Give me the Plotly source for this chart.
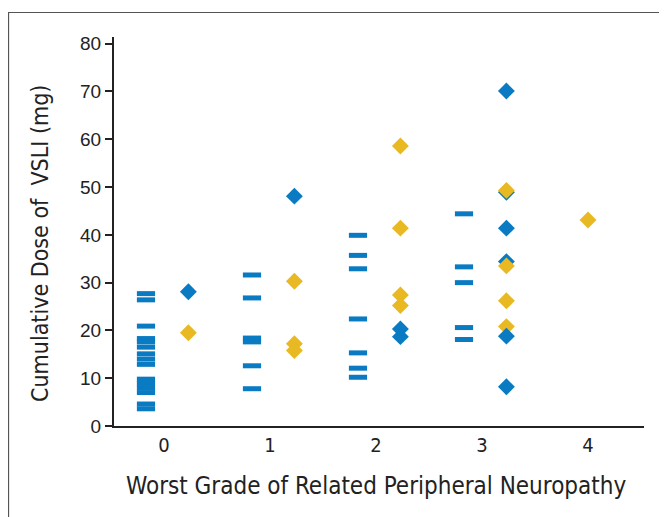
import plotly.graph_objects as go

BLUE = "#0A7BC2"
YELLOW = "#E8B923"

grades = [0, 1, 2, 3, 4]
tick_labels = ["0", "1", "2", "3", "4"]
y_ticks = [0, 10, 20, 30, 40, 50, 60, 70, 80]

# Dashes (one per patient) by grade
dash_grade = ([0] * 15) + ([1] * 6) + ([2] * 7) + ([3] * 5)
dash_dose = [27.7, 26.4, 20.9, 18.3, 17.6, 16.5, 15.1, 14.0, 12.9, 9.8, 8.9, 8.0, 7.0, 4.6, 3.6,
             31.6, 26.8, 18.4, 17.6, 12.6, 7.8,
             39.9, 35.7, 32.9, 22.4, 15.3, 12.1, 10.2,
             44.4, 33.3, 30.0, 20.6, 18.1]

# Blue diamonds
blue_grade = [0, 1, 2, 2, 3, 3, 3, 3]
blue_dose = [28.1, 48.1, 20.3, 18.7, 70.1, 48.9, 41.4, 34.4]
# Yellow diamonds
yellow_grade = [0, 1, 1, 1, 2, 2, 2, 2, 3, 3, 3, 3, 4]
yellow_dose = [19.5, 30.3, 17.2, 15.8, 58.6, 41.4, 27.4, 25.2, 49.3, 33.5, 26.2, 20.8, 43.1]
# Blue diamonds drawn over the yellow ones
blue_top_grade = [3, 3]
blue_top_dose = [18.8, 8.2]

DASH_OFF = -0.17
DIA_OFF = 0.23

def offs(gs, off):
    return [g + (off if g < 4 else 0.0) for g in gs]

fig = go.Figure()
fig.add_trace(go.Scatter(
    x=offs(dash_grade, DASH_OFF), y=dash_dose, mode="markers",
    marker=dict(symbol="line-ew", size=13, color=BLUE,
                line=dict(color=BLUE, width=5)),
    showlegend=False, hoverinfo="skip"))
fig.add_trace(go.Scatter(
    x=offs(blue_grade, DIA_OFF), y=blue_dose, mode="markers",
    marker=dict(symbol="diamond", size=13, color=BLUE, line=dict(width=0)),
    showlegend=False))
fig.add_trace(go.Scatter(
    x=offs(yellow_grade, DIA_OFF), y=yellow_dose, mode="markers",
    marker=dict(symbol="diamond", size=13, color=YELLOW, line=dict(width=0)),
    showlegend=False))
fig.add_trace(go.Scatter(
    x=offs(blue_top_grade, DIA_OFF), y=blue_top_dose, mode="markers",
    marker=dict(symbol="diamond", size=13, color=BLUE, line=dict(width=0)),
    showlegend=False))

FONT = "DejaVu Sans Condensed, Liberation Sans Narrow, Arial Narrow, sans-serif"
TICKFONT = "Liberation Sans, Arial, sans-serif"
INK = "#222222"

fig.update_layout(
    width=667, height=517,
    margin=dict(l=106, r=31, t=29, b=99),
    paper_bgcolor="white", plot_bgcolor="white",
    font=dict(family=FONT, color=INK),
    xaxis=dict(range=[-0.4717, 4.528], tickmode="array", tickvals=grades,
               ticktext=tick_labels, showgrid=False, zeroline=False,
               showline=True, linecolor=INK, linewidth=2,
               ticks="", tickfont=dict(size=20, family=FONT, color=INK)),
    yaxis=dict(range=[0, 81.4], tickmode="array", tickvals=y_ticks,
               showgrid=False, zeroline=False, showline=True, linecolor=INK,
               linewidth=2, ticks="outside", ticklen=7, tickwidth=1.5, tickcolor=INK,
               tickfont=dict(size=19, family=TICKFONT, color=INK)),
    annotations=[
        dict(text="Worst Grade of Related Peripheral Neuropathy", xref="paper", yref="paper",
             x=0.494, y=-0.154, xanchor="center", yanchor="middle", showarrow=False,
             font=dict(size=24, family=FONT, color=INK)),
        dict(text="Cumulative Dose of  VSLI (mg)", xref="paper", yref="paper",
             x=-0.1396, y=0.468, xanchor="center", yanchor="middle", showarrow=False,
             textangle=-90, font=dict(size=23, family=FONT, color=INK)),
    ],
    shapes=[dict(type="rect", xref="paper", yref="paper",
                 x0=-0.199, x1=1.3, y0=-0.5, y1=1.063,
                 line=dict(color="#555555", width=1.2), layer="below")],
)

fig.write_html("out.html")
